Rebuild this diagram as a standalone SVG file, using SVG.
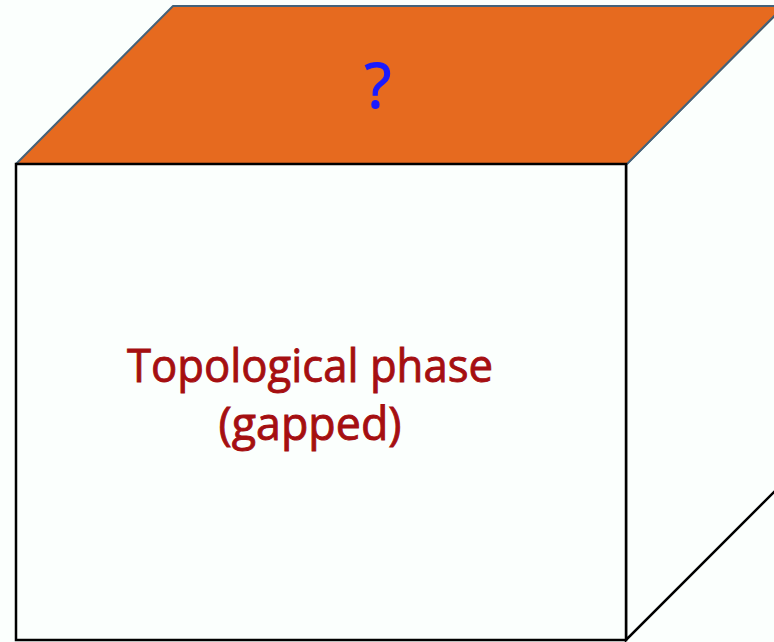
<svg xmlns="http://www.w3.org/2000/svg" width="774" height="642" viewBox="0 0 774 642">
<style>
.top{fill:#e66a1f;stroke:#44627a;stroke-width:2;stroke-linejoin:round}
.edge{fill:#fbfffd;stroke:#000;stroke-width:2.5}
.lbl{font-family:"Open Sans","Noto Sans",sans-serif;fill:#a50f11;stroke:#a50f11;stroke-width:0.9;font-size:46px;text-anchor:middle}
.q{font-family:"Open Sans","Noto Sans",sans-serif;fill:#1a1aff;stroke:#1a1aff;stroke-width:1.2;font-size:62px;text-anchor:middle}
</style>
<rect width="774" height="642" fill="#fbfffd"/>
<g id="cube">
<polygon class="edge" points="626,164 786,4 786,480 626,640"/>
<polygon class="top" points="16,164 173,6 784,6 627,164"/>
<rect id="front" class="edge" x="16" y="164" width="610" height="476"/>
</g>
<g id="labels">
<text class="q" x="378" y="108">?</text>
<text class="lbl" x="310" y="382" textLength="366" lengthAdjust="spacingAndGlyphs">Topological phase</text>
<text class="lbl" x="310" y="440" textLength="183" lengthAdjust="spacingAndGlyphs">(gapped)</text>
</g>
</svg>
